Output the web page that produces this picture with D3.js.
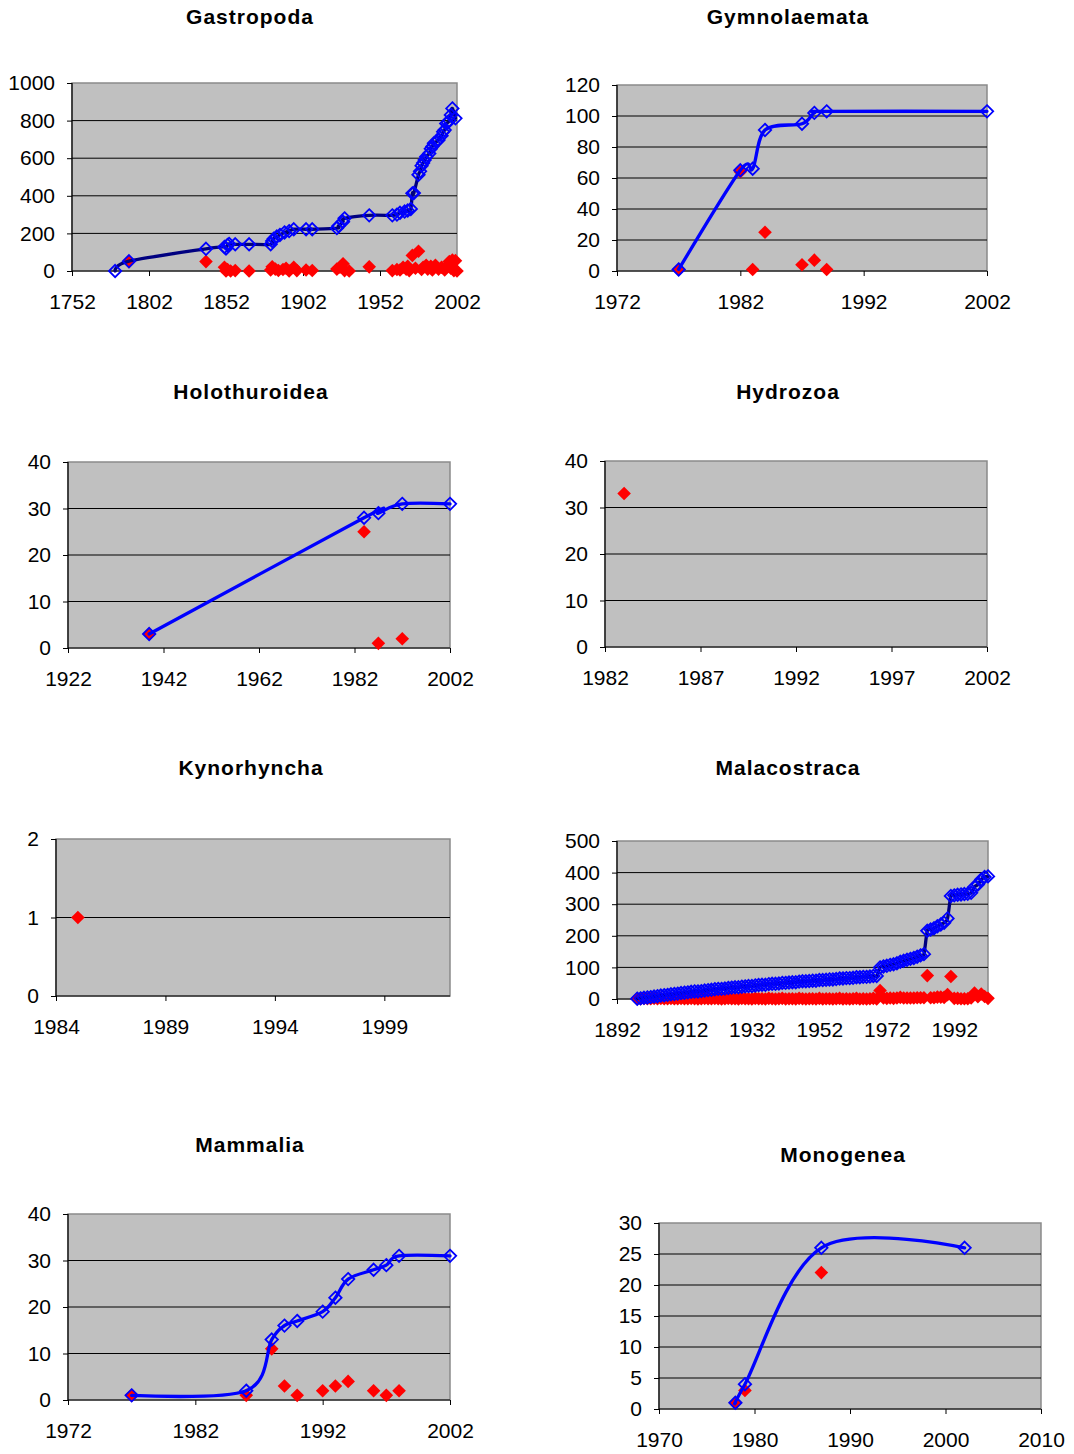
<!DOCTYPE html>
<html><head><meta charset="utf-8">
<script src="https://cdn.jsdelivr.net/npm/d3@7"></script>
<style>
html,body{margin:0;padding:0;background:#fff;}
svg{display:block;font-family:"Liberation Sans",Arial,sans-serif;}
</style></head>
<body><svg id="c" width="1074" height="1454"></svg>
<script>
// ---------- DATA ----------
const gastropodaBlueYear  = [1780,1789,1839,1851,1852,1853,1854,1858,1867,1881,1882,1883,1885,1887,1890,1893,1896,1904,1908,1924,1925,1928,1929,1945,1960,1963,1965,1968,1970,1972,1973,1974,1977,1978,1979,1980,1981,1982,1984,1985,1986,1987,1989,1990,1992,1993,1994,1995,1996,1997,1998,1999,2001];
const gastropodaBlueCount = [0,52,118,128,120,138,144,142,142,142,160,172,183,192,205,212,222,222,222,228,240,262,280,296,296,300,310,316,322,330,413,415,512,530,560,575,590,608,625,650,662,680,690,697,720,741,750,785,790,800,830,865,812];
const gastropodaRedYear   = [1789,1839,1851,1852,1853,1855,1858,1867,1881,1882,1884,1886,1889,1891,1893,1896,1898,1904,1908,1924,1926,1928,1929,1932,1945,1960,1963,1965,1967,1969,1970,1971,1973,1975,1977,1979,1980,1982,1983,1985,1986,1988,1990,1992,1994,1996,1997,1998,1999,2000,2001,2002];
const gastropodaRedCount  = [50,50,20,0,8,0,2,0,5,22,10,3,8,15,0,20,2,5,3,10,20,38,2,0,22,2,8,5,20,10,25,2,83,15,105,8,20,30,10,25,5,30,10,20,5,25,50,15,58,2,55,0];

const gymnoBlueYear  = [1977,1982,1983,1984,1987,1988,1989,2002];
const gymnoBlueCount = [1,65,66,91,95,102,103,103];
const gymnoRedYear   = [1977,1982,1983,1984,1987,1988,1989];
const gymnoRedCount  = [1,64,1,25,4,7,1];

const holoBlueYear  = [1939,1984,1987,1992,2002];
const holoBlueCount = [3,28,29,31,31];
const holoRedYear   = [1939,1984,1987,1992];
const holoRedCount  = [3,25,1,2];

const hydroBlueYear  = [];
const hydroBlueCount = [];
const hydroRedYear   = [1983];
const hydroRedCount  = [33];

const kynoBlueYear  = [];
const kynoBlueCount = [];
const kynoRedYear   = [1985];
const kynoRedCount  = [1];

const malacoYear = [1898,1899,1900,1901,1902,1903,1904,1905,1906,1907,
  1908,1909,1910,1911,1912,1913,1914,1915,1916,1917,
  1918,1919,1920,1921,1922,1923,1924,1925,1926,1927,
  1928,1929,1930,1931,1932,1933,1934,1935,1936,1937,
  1938,1939,1940,1941,1942,1943,1944,1945,1946,1947,
  1948,1949,1950,1951,1952,1953,1954,1955,1956,1957,
  1958,1959,1960,1961,1962,1963,1964,1965,1966,1967,
  1968,1969,1970,1971,1972,1973,1974,1975,1976,1977,
  1978,1979,1980,1981,1982,1983,1984,1985,1986,1987,
  1988,1989,1990,1991,1992,1993,1994,1995,1996,1997,
  1998,1999,2000,2001,2002];
const malacoBlueCount = [1,2,4,5,6,8,9,11,12,13,
  15,16,17,19,20,21,23,24,24,25,
  27,28,29,31,32,32,33,35,36,37,
  37,39,40,41,41,43,44,45,45,47,
  48,48,49,51,51,52,53,53,55,56,
  56,57,58,58,60,60,61,62,62,63,
  65,65,66,66,67,69,69,70,70,71,
  73,73,100,103,105,108,110,113,118,121,
  124,127,130,134,138,142,216,220,224,230,
  236,241,255,326,328,330,331,332,333,336,
  355,362,378,386,388];
const malacoRedCount = [1,1,2,1,1,2,1,2,1,1,
  2,1,1,2,1,1,2,1,0,1,
  2,1,1,2,1,0,1,2,1,1,
  0,2,1,1,0,2,1,1,0,2,
  1,0,1,2,0,1,1,0,2,1,
  0,1,1,0,2,0,1,1,0,1,
  2,0,1,0,1,2,0,1,0,1,
  2,0,27,3,2,3,2,3,5,3,
  3,3,3,4,4,4,74,4,4,6,
  6,5,14,71,2,2,1,1,1,3,
  19,7,16,8,2];

const mammBlueYear  = [1977,1986,1988,1989,1990,1992,1993,1994,1996,1997,1998,2002];
const mammBlueCount = [1,2,13,16,17,19,22,26,28,29,31,31];
const mammRedYear   = [1977,1986,1988,1989,1990,1992,1993,1994,1996,1997,1998];
const mammRedCount  = [1,1,11,3,1,2,3,4,2,1,2];

const monoBlueYear  = [1978,1979,1987,2002];
const monoBlueCount = [1,4,26,26];
const monoRedYear   = [1978,1979,1987];
const monoRedCount  = [1,3,22];

// tick labels
const gastropodaXTicks = [1752,1802,1852,1902,1952,2002];
const gastropodaYTicks = [0,200,400,600,800,1000];
const gymnoXTicks = [1972,1982,1992,2002];
const gymnoYTicks = [0,20,40,60,80,100,120];
const holoXTicks = [1922,1942,1962,1982,2002];
const holoYTicks = [0,10,20,30,40];
const hydroXTicks = [1982,1987,1992,1997,2002];
const hydroYTicks = [0,10,20,30,40];
const kynoXTicks = [1984,1989,1994,1999];
const kynoYTicks = [0,1,2];
const malacoXTicks = [1892,1912,1932,1952,1972,1992];
const malacoYTicks = [0,100,200,300,400,500];
const mammXTicks = [1972,1982,1992,2002];
const mammYTicks = [0,10,20,30,40];
const monoXTicks = [1970,1980,1990,2000,2010];
const monoYTicks = [0,5,10,15,20,25,30];

const titles = ["Gastropoda","Gymnolaemata","Holothuroidea","Hydrozoa","Kynorhyncha","Malacostraca","Mammalia","Monogenea"];

// ---------- LAYOUT ----------
const panels = [
  {title:titles[0], tx:250, ty:24, box:[72,457,83,271], xd:[1752,2002], xt:gastropodaXTicks, yd:[0,1000], yt:gastropodaYTicks,
   bx:gastropodaBlueYear, by:gastropodaBlueCount, rx:gastropodaRedYear, ry:gastropodaRedCount, lc:"#000080"},
  {title:titles[1], tx:788, ty:24, box:[617,987,85,271], xd:[1972,2002], xt:gymnoXTicks, yd:[0,120], yt:gymnoYTicks,
   bx:gymnoBlueYear, by:gymnoBlueCount, rx:gymnoRedYear, ry:gymnoRedCount, lc:"#0000FF"},
  {title:titles[2], tx:251, ty:399, box:[68,450,462,648], xd:[1922,2002], xt:holoXTicks, yd:[0,40], yt:holoYTicks,
   bx:holoBlueYear, by:holoBlueCount, rx:holoRedYear, ry:holoRedCount, lc:"#0000FF"},
  {title:titles[3], tx:788, ty:399, box:[605,987,461,647], xd:[1982,2002], xt:hydroXTicks, yd:[0,40], yt:hydroYTicks,
   bx:hydroBlueYear, by:hydroBlueCount, rx:hydroRedYear, ry:hydroRedCount, lc:"#0000FF"},
  {title:titles[4], tx:251, ty:775, box:[56,450,839,996], xd:[1984,2002], xt:kynoXTicks, yd:[0,2], yt:kynoYTicks,
   bx:kynoBlueYear, by:kynoBlueCount, rx:kynoRedYear, ry:kynoRedCount, lc:"#0000FF"},
  {title:titles[5], tx:788, ty:775, box:[617,988,841,999], xd:[1892,2002], xt:malacoXTicks, yd:[0,500], yt:malacoYTicks,
   bx:malacoYear, by:malacoBlueCount, rx:malacoYear, ry:malacoRedCount, lc:"#000080"},
  {title:titles[6], tx:250, ty:1152, box:[68,450,1214,1400], xd:[1972,2002], xt:mammXTicks, yd:[0,40], yt:mammYTicks,
   bx:mammBlueYear, by:mammBlueCount, rx:mammRedYear, ry:mammRedCount, lc:"#0000FF"},
  {title:titles[7], tx:843, ty:1162, box:[659,1041,1223,1409], xd:[1970,2010], xt:monoXTicks, yd:[0,30], yt:monoYTicks,
   bx:monoBlueYear, by:monoBlueCount, rx:monoRedYear, ry:monoRedCount, lc:"#0000FF"}
];

const svg = d3.select("#c");
const FS = 21;
const diamond = s => `M0,${-s}L${s},0L0,${s}L${-s},0Z`;

panels.forEach(p => {
  const [x0,x1,y0,y1] = p.box;
  const x = d3.scaleLinear().domain(p.xd).range([x0,x1]);
  const y = d3.scaleLinear().domain(p.yd).range([y1,y0]);
  const g = svg.append("g");

  g.append("text").attr("x",p.tx).attr("y",p.ty).attr("text-anchor","middle")
    .attr("font-size",FS).attr("font-weight","bold").attr("letter-spacing","1px").attr("fill","#000")
    .text(p.title);

  g.append("rect").attr("x",x0).attr("y",y0).attr("width",x1-x0).attr("height",y1-y0)
    .attr("fill","#C0C0C0").attr("stroke","#8a8a8a").attr("stroke-width",1.5);

  // gridlines
  g.selectAll("line.grid").data(p.yt.filter(v => v !== p.yd[0] && v !== p.yd[1])).enter()
    .append("line").attr("x1",x0).attr("x2",x1).attr("y1",d=>y(d)).attr("y2",d=>y(d))
    .attr("stroke","#000").attr("stroke-width",1);

  // axes
  const ya = g.append("g").attr("transform",`translate(${x0},0)`)
    .call(d3.axisLeft(y).tickValues(p.yt).tickFormat(d3.format("d")).tickSize(5).tickSizeOuter(0).tickPadding(12));
  const xa = g.append("g").attr("transform",`translate(0,${y1})`)
    .call(d3.axisBottom(x).tickValues(p.xt).tickFormat(d3.format("d")).tickSize(5).tickSizeOuter(0).tickPadding(18));
  [ya,xa].forEach(a => {
    a.attr("font-size",null).attr("font-family",null);
    a.selectAll("text").attr("font-size",FS).attr("fill","#000");
    a.selectAll("line").attr("stroke","#000");
    a.select(".domain").attr("stroke","#000").attr("stroke-width",1.2);
  });
  xa.select(".domain").attr("d",`M${x0},0H${x1}`);
  ya.select(".domain").attr("d",`M0,${y0}V${y1}`);

  // red series
  const red = p.rx.map((v,i)=>[v,p.ry[i]]);
  g.selectAll("path.red").data(red).enter().append("path")
    .attr("d",diamond(6.8)).attr("transform",d=>`translate(${x(d[0])},${y(d[1])})`)
    .attr("fill","#FF0000");

  // blue series
  const blue = p.bx.map((v,i)=>[v,p.by[i]]);
  if (blue.length) {
    const line = d3.line().x(d=>x(d[0])).y(d=>y(d[1])).curve(d3.curveCardinal.tension(0));
    g.append("path").attr("d",line(blue)).attr("fill","none").attr("stroke",p.lc)
      .attr("stroke-width",3.3).attr("stroke-linejoin","round").attr("stroke-linecap","round");
    g.selectAll("path.blue").data(blue).enter().append("path")
      .attr("d",diamond(6.2)).attr("transform",d=>`translate(${x(d[0])},${y(d[1])})`)
      .attr("fill","none").attr("stroke","#0000FF").attr("stroke-width",1.8);
  }
});
</script></body></html>
